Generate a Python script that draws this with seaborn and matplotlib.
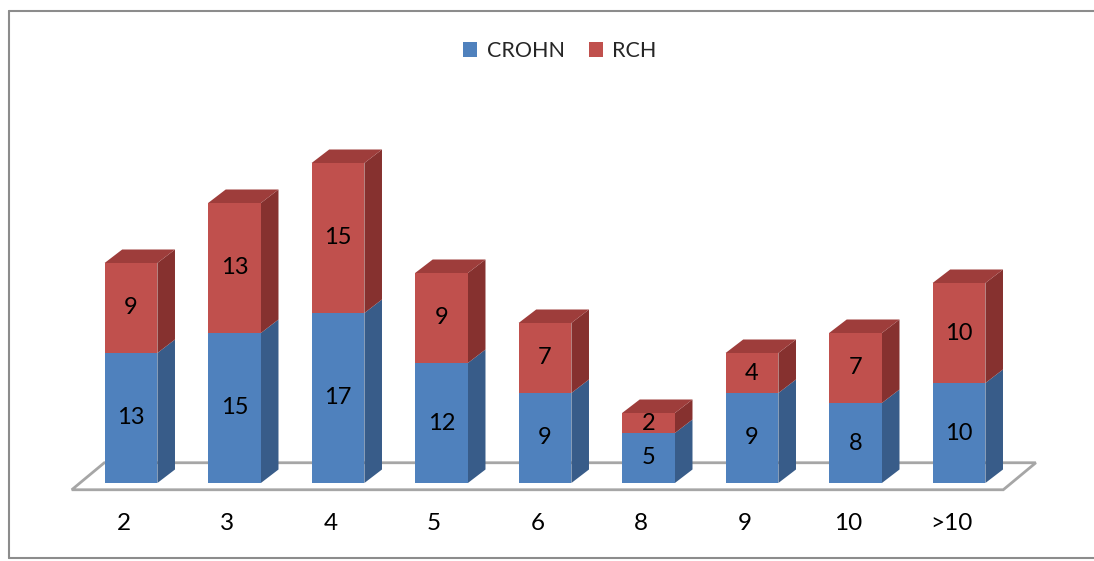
import matplotlib
matplotlib.use("Agg")
import matplotlib.pyplot as plt
from matplotlib.patches import Polygon, Patch, Rectangle
from matplotlib.lines import Line2D
import seaborn as sns
import pandas as pd

# Counts per group, stacked: CROHN at the base, RCH on top
categories = ["2", "3", "4", "5", "6", "8", "9", "10", ">10"]
crohn = [13, 15, 17, 12, 9, 5, 9, 8, 10]
rch = [9, 13, 15, 9, 7, 2, 4, 7, 10]
series_names = ["CROHN", "RCH"]

BLUE, BLUE_SIDE = "#4F81BD", "#385C89"
RED, RED_SIDE, RED_TOP = "#C0504D", "#86312F", "#9E3D3B"

sns.set_theme(style="white")
plt.rcParams["font.family"] = ["Lato", "DejaVu Sans"]

df = pd.DataFrame({"group": categories, "crohn": crohn, "rch": rch})
df["total"] = df["crohn"] + df["rch"]

fig = plt.figure(figsize=(10.94, 5.61), dpi=100)
ax = fig.add_axes([0, 0, 1, 1])

# pseudo-3D depth of each bar, in data units
DX, DY = 0.17, 1.35

# front faces: totals in red, CROHN drawn over them in blue
sns.barplot(data=df, x="group", y="total", color=RED, saturation=1,
            width=0.51, linewidth=0, ax=ax, zorder=2)
n_red = len(ax.patches)
sns.barplot(data=df, x="group", y="crohn", color=BLUE, saturation=1,
            width=0.51, linewidth=0, ax=ax, zorder=3)
ax.set_xlim(-1.2657, 9.3043)
ax.set_ylim(-7.8, 48.3)
ax.axis("off")

# floor of the chart, centred on the bars' mid-depth
n = len(categories)
fdx, fdy = DX * 1.85, DY * 2.0
mx, my = DX / 2, DY / 2
floor = Polygon([(-0.5 + mx - fdx / 2, my - fdy / 2),
                 (-0.5 + mx + fdx / 2, my + fdy / 2),
                 (n - 0.5 + mx + fdx / 2, my + fdy / 2),
                 (n - 0.5 + mx - fdx / 2, my - fdy / 2)],
                closed=True, facecolor="white", edgecolor="#A6A6A6",
                linewidth=2, zorder=0.5)
ax.add_patch(floor)

patches = list(ax.patches)
red_bars = [p for p in patches[:n_red] if isinstance(p, Rectangle)]
blue_bars = [p for p in patches[n_red:] if isinstance(p, Rectangle) and p is not floor]

for rb, bb, c, r in zip(red_bars, blue_bars, crohn, rch):
    x0 = rb.get_x()
    x1 = x0 + rb.get_width()
    top = rb.get_height()
    mid = bb.get_height()
    # side faces
    ax.add_patch(Polygon([(x1, 0), (x1 + DX, DY), (x1 + DX, mid + DY), (x1, mid)],
                         closed=True, facecolor=BLUE_SIDE, linewidth=0, zorder=1.8))
    ax.add_patch(Polygon([(x1, mid), (x1 + DX, mid + DY), (x1 + DX, top + DY), (x1, top)],
                         closed=True, facecolor=RED_SIDE, linewidth=0, zorder=1.8))
    # top face
    ax.add_patch(Polygon([(x0, top), (x0 + DX, top + DY), (x1 + DX, top + DY), (x1, top)],
                         closed=True, facecolor=RED_TOP, linewidth=0, zorder=1.8))
    xc = (x0 + x1) / 2
    ax.text(xc, mid / 2, str(c), ha="center", va="center", fontsize=17,
            color="black", zorder=5)
    ax.text(xc, mid + r / 2, str(r), ha="center", va="center", fontsize=17,
            color="black", zorder=5)

# category labels under the floor's front edge
for i, lab in enumerate(categories):
    ax.text(i + mx - fdx / 2, -4.0, lab, ha="center", va="center",
            fontsize=17.5, color="black")

# legend above the plot
handles = [Patch(facecolor=BLUE, edgecolor="none", label=series_names[0]),
           Patch(facecolor=RED, edgecolor="none", label=series_names[1])]
fig.legend(handles=handles, loc="center", bbox_to_anchor=(560 / 1094, 1 - 51 / 561),
           ncol=2, frameon=False, fontsize=15.5, handlelength=0.65,
           handleheight=0.65, handletextpad=0.45, columnspacing=1.1)

# chart border: left, top and bottom edges
border = dict(color="#8C8C8C", linewidth=1.5, transform=fig.transFigure)
left, top_, bottom = 9 / 1094, 1 - 11 / 561, 1 - 558 / 561
fig.add_artist(Line2D([left, left], [bottom, top_], **border))
fig.add_artist(Line2D([left, 1.0], [top_, top_], **border))
fig.add_artist(Line2D([left, 1.0], [bottom, bottom], **border))

fig.savefig("out.png", dpi=100)
